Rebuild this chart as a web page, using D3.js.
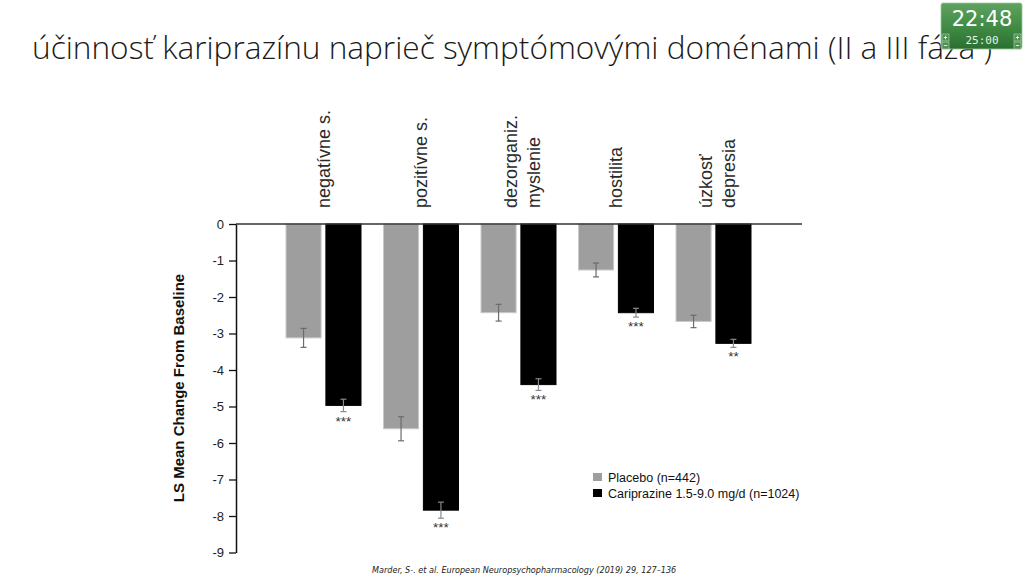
<!DOCTYPE html>
<html>
<head>
<meta charset="utf-8">
<script src="https://cdn.jsdelivr.net/npm/d3@7"></script>
<style>
  html, body { margin: 0; padding: 0; background: #fff; }
  svg { display: block; }
</style>
</head>
<body>
<svg id="chart" width="1024" height="576"></svg>
<script>
// Data
const categories = ["negatívne s.", "pozitívne s.", "dezorganiz. myslenie", "hostilita", "úzkosť depresia"];
const categoryLines = [["negatívne s."], ["pozitívne s."], ["dezorganiz.", "myslenie"], ["hostilita"], ["úzkosť", "depresia"]];
const seriesNames = ["Placebo (n=442)", "Cariprazine 1.5-9.0 mg/d (n=1024)"];
const placebo = [-3.12, -5.61, -2.43, -1.26, -2.67];
const placeboErr = [0.26, 0.33, 0.23, 0.19, 0.17];
const cariprazine = [-4.97, -7.84, -4.40, -2.43, -3.27];
const cariprazineErr = [0.17, 0.22, 0.16, 0.12, 0.11];
const significance = ["***", "***", "***", "***", "**"];
const yTicks = [0, -1, -2, -3, -4, -5, -6, -7, -8, -9];

(function() {
  const svg = d3.select("#chart");

  const INK = "#111";
  const GRAY = "#9e9e9e";
  const BLACK = "#000";
  const ERR = "#6b6b6b";
  const SANS = "'Liberation Sans', Arial, Helvetica, sans-serif";

  svg.append("rect").attr("width", 1024).attr("height", 576).attr("fill", "#fff");

  // Title
  svg.append("text")
    .attr("x", 32).attr("y", 59)
    .attr("font-family", "'Open Sans', sans-serif")
    .attr("font-weight", 300)
    .attr("font-size", 31)
    .attr("fill", "#1a1a1a")
    .attr("textLength", 960)
    .attr("lengthAdjust", "spacingAndGlyphs")
    .text("účinnosť kariprazínu naprieč symptómovými doménami (II a III fáza )");

  // Scales
  const x0 = d3.scaleBand()
    .domain(categories)
    .range([274.75, 762.25])
    .paddingInner(0.2308)
    .paddingOuter(0.1154);

  const x1 = d3.scaleBand()
    .domain(seriesNames)
    .range([0, x0.bandwidth()])
    .paddingInner(0.12);

  const y = d3.scaleLinear().domain([0, -9]).range([224, 552.5]);

  const colors = d3.scaleOrdinal().domain(seriesNames).range([GRAY, BLACK]);

  const rows = categories.map((c, i) => ({
    cat: c,
    lines: categoryLines[i],
    sig: significance[i],
    bars: [
      { name: seriesNames[0], value: placebo[i], err: placeboErr[i] },
      { name: seriesNames[1], value: cariprazine[i], err: cariprazineErr[i] }
    ]
  }));

  // Bars
  const groups = svg.append("g").selectAll("g")
    .data(rows).join("g")
    .attr("transform", d => `translate(${x0(d.cat)},0)`);

  groups.selectAll("rect")
    .data(d => d.bars).join("rect")
    .attr("x", d => x1(d.name))
    .attr("y", y(0))
    .attr("width", x1.bandwidth())
    .attr("height", d => y(d.value) - y(0))
    .attr("fill", d => colors(d.name))
    .attr("stroke", d => d.name === seriesNames[0] ? "#c9c9c9" : BLACK)
    .attr("stroke-width", 1);

  // Error bars
  const errG = groups.selectAll("g.err")
    .data(d => d.bars).join("g")
    .attr("class", "err")
    .attr("transform", d => `translate(${x1(d.name) + x1.bandwidth() / 2},0)`);

  errG.append("line")
    .attr("y1", d => y(d.value - d.err)).attr("y2", d => y(d.value + d.err))
    .attr("stroke", d => d.name === seriesNames[0] ? ERR : "#8a8a8a")
    .attr("stroke-width", 1.2);
  errG.selectAll("line.cap")
    .data(d => [d.value - d.err, d.value + d.err].map(v => ({ v, name: d.name })))
    .join("line")
    .attr("class", "cap")
    .attr("x1", -3).attr("x2", 3)
    .attr("y1", d => y(d.v)).attr("y2", d => y(d.v))
    .attr("stroke", d => d.name === seriesNames[0] ? ERR : "#8a8a8a")
    .attr("stroke-width", 1.2);

  // Significance stars under cariprazine bars
  groups.append("text")
    .attr("x", x1(seriesNames[1]) + x1.bandwidth() / 2)
    .attr("y", d => y(d.bars[1].value - d.bars[1].err) + 14)
    .attr("text-anchor", "middle")
    .attr("font-family", SANS)
    .attr("font-size", 13.5)
    .attr("fill", "#333")
    .text(d => d.sig);

  // Category labels (rotated)
  const lineGap = 23;
  groups.each(function(d) {
    const cx = x0.bandwidth() / 2;
    const n = d.lines.length;
    d.lines.forEach((ln, j) => {
      const off = (j - (n - 1) / 2) * lineGap + (n > 1 ? 4 : 0);
      d3.select(this).append("text")
        .attr("transform", `translate(${cx + off},208) rotate(-90)`)
        .attr("dy", "0.36em")
        .attr("text-anchor", "start")
        .attr("font-family", SANS)
        .attr("font-size", 18)
        .attr("fill", "#2a2a2a")
        .text(ln);
    });
  });

  // Zero line across the top
  svg.append("line")
    .attr("x1", 236).attr("x2", 802)
    .attr("y1", y(0)).attr("y2", y(0))
    .attr("stroke", "#333").attr("stroke-width", 1.5);

  // Y axis
  const yAxis = svg.append("g")
    .attr("transform", "translate(236,0)")
    .call(d3.axisLeft(y).tickValues(yTicks).tickFormat(d3.format("d")).tickSize(7).tickPadding(5).tickSizeOuter(0));
  yAxis.select(".domain").attr("stroke", INK).attr("stroke-width", 1.5);
  yAxis.selectAll(".tick line").attr("stroke", INK).attr("stroke-width", 1.3);
  yAxis.selectAll(".tick text")
    .attr("font-family", SANS)
    .attr("font-size", 13)
    .attr("fill", "#222")
    .text(d => d === 0 ? "0" : "-" + Math.abs(d));

  svg.append("text")
    .attr("transform", "translate(184,388) rotate(-90)")
    .attr("text-anchor", "middle")
    .attr("font-family", SANS)
    .attr("font-weight", "bold")
    .attr("font-size", 15)
    .attr("fill", "#111")
    .text("LS Mean Change From Baseline");

  // Legend
  const legend = svg.append("g").attr("transform", "translate(593,473)");
  const li = legend.selectAll("g").data(seriesNames).join("g")
    .attr("transform", (d, i) => `translate(0,${i * 16})`);
  li.append("rect")
    .attr("width", 9).attr("height", 8)
    .attr("fill", d => colors(d));
  li.append("text")
    .attr("x", 15).attr("y", 8.5)
    .attr("font-family", SANS)
    .attr("font-size", 12.5)
    .attr("fill", "#111")
    .text(d => d);

  // Citation
  svg.append("text")
    .attr("x", 372).attr("y", 573)
    .attr("font-family", "'DejaVu Sans', Verdana, sans-serif")
    .attr("font-style", "italic")
    .attr("font-size", 8.1)
    .attr("fill", "#222")
    .text("Marder, S-. et al. European Neuropsychopharmacology (2019) 29, 127–136");

  // Presentation timer widget (top right)
  const defs = svg.append("defs");
  const grad = defs.append("linearGradient").attr("id", "tgrad")
    .attr("x1", 0).attr("y1", 0).attr("x2", 0).attr("y2", 1);
  grad.append("stop").attr("offset", "0%").attr("stop-color", "#5fa25f");
  grad.append("stop").attr("offset", "55%").attr("stop-color", "#3f8a43");
  grad.append("stop").attr("offset", "100%").attr("stop-color", "#2b6f31");

  const timer = svg.append("g").attr("transform", "translate(941,3)");
  timer.append("rect")
    .attr("width", 81).attr("height", 46).attr("rx", 2)
    .attr("fill", "url(#tgrad)")
    .attr("stroke", "#9cc79c").attr("stroke-width", 0.8);
  timer.append("text")
    .attr("x", 41).attr("y", 23)
    .attr("text-anchor", "middle")
    .attr("font-family", "'DejaVu Sans', sans-serif")
    .attr("font-size", 21)
    .attr("fill", "#fff")
    .text("22:48");
  timer.append("text")
    .attr("x", 41).attr("y", 41)
    .attr("text-anchor", "middle")
    .attr("font-family", "'DejaVu Sans Mono', monospace")
    .attr("font-size", 11)
    .attr("fill", "#e6f2e6")
    .text("25:00");
  // small +/- buttons, drawn as shapes
  [[1, 31, true], [1, 39, false], [73, 31, true], [73, 39, false]].forEach(([bx, by, plus]) => {
    timer.append("rect")
      .attr("x", bx).attr("y", by).attr("width", 7).attr("height", 7)
      .attr("fill", "#4e8f52").attr("stroke", "#b8d8b8").attr("stroke-width", 0.6);
    timer.append("line")
      .attr("x1", bx + 1.8).attr("x2", bx + 5.2)
      .attr("y1", by + 3.5).attr("y2", by + 3.5)
      .attr("stroke", "#fff").attr("stroke-width", 0.8);
    if (plus) {
      timer.append("line")
        .attr("x1", bx + 3.5).attr("x2", bx + 3.5)
        .attr("y1", by + 1.8).attr("y2", by + 5.2)
        .attr("stroke", "#fff").attr("stroke-width", 0.8);
    }
  });
})();
</script>
</body>
</html>
